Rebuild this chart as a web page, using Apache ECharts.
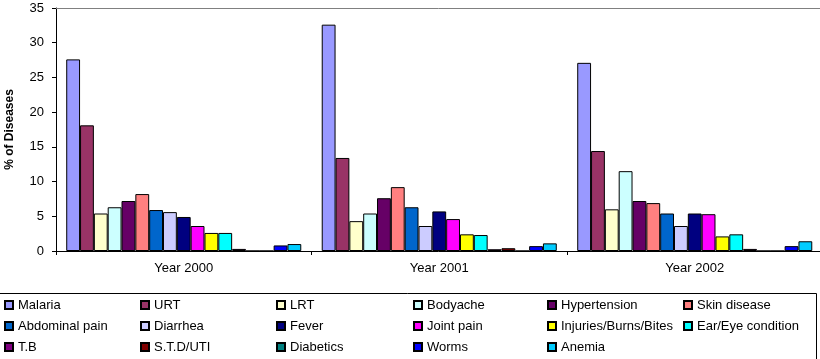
<!DOCTYPE html>
<html>
<head>
<meta charset="utf-8">
<script src="https://cdn.jsdelivr.net/npm/echarts@6/dist/echarts.min.js"></script>
<style>
html,body{margin:0;padding:0;background:#fff;}
#c{width:820px;height:359px;}
</style>
</head>
<body>
<div id="c"></div>
<script>
const categories = ['Year 2000', 'Year 2001', 'Year 2002'];
const seriesNames = ['Malaria','URT','LRT','Bodyache','Hypertension','Skin disease','Abdominal pain','Diarrhea','Fever','Joint pain','Injuries/Burns/Bites','Ear/Eye condition','T.B','S.T.D/UTI','Diabetics','Worms','Anemia'];
const seriesColors = ['#9999FF','#993366','#FFFFCC','#CCFFFF','#660066','#FF8080','#0066CC','#CCCCFF','#000080','#FF00FF','#FFFF00','#00FFFF','#800080','#800000','#008080','#0000FF','#00CCFF'];
const malaria = [27.6, 32.6, 27.1];
const urt = [18.1, 13.4, 14.4];
const lrt = [5.4, 4.3, 6.0];
const bodyache = [6.3, 5.4, 11.5];
const hypertension = [7.2, 7.6, 7.2];
const skinDisease = [8.2, 9.2, 6.9];
const abdominalPain = [5.9, 6.3, 5.4];
const diarrhea = [5.6, 3.6, 3.6];
const fever = [4.9, 5.7, 5.4];
const jointPain = [3.6, 4.6, 5.3];
const injuries = [2.6, 2.4, 2.1];
const earEye = [2.6, 2.3, 2.4];
const tb = [0.3, 0.25, 0.3];
const stdUti = [0, 0.4, 0];
const diabetics = [0, 0, 0];
const worms = [0.8, 0.7, 0.7];
const anemia = [1.0, 1.1, 1.4];
const yTicks = {min: 0, max: 35, interval: 5};

const seriesValues = [malaria, urt, lrt, bodyache, hypertension, skinDisease, abdominalPain, diarrhea, fever, jointPain, injuries, earEye, tb, stdUti, diabetics, worms, anemia];

const FONT = '"Liberation Sans", Arial, sans-serif';

const legendColumns = [
  ['Malaria','Abdominal pain','T.B'],
  ['URT','Diarrhea','S.T.D/UTI'],
  ['LRT','Fever','Diabetics'],
  ['Bodyache','Joint pain','Worms'],
  ['Hypertension','Injuries/Burns/Bites','Anemia'],
  ['Skin disease','Ear/Eye condition']
];
const legendLefts = [4, 140, 276, 413, 547, 683];

const chart = echarts.init(document.getElementById('c'), null, {renderer: 'canvas'});
chart.setOption({
  animation: false,
  backgroundColor: '#fff',
  textStyle: {fontFamily: FONT, color: '#000'},
  grid: {left: 56, top: 8, width: 766.5, height: 243, containLabel: false, outerBoundsMode: 'none'},
  xAxis: [{
    type: 'category',
    data: categories,
    position: 'bottom',
    axisLine: {lineStyle: {color: '#000', width: 1}},
    axisTick: {show: true, length: 4, lineStyle: {color: '#000'}},
    axisLabel: {fontSize: 13, color: '#000', margin: 11, fontFamily: FONT},
    splitLine: {show: false}
  }, {
    type: 'category',
    data: categories,
    position: 'top',
    axisLine: {lineStyle: {color: '#808080', width: 1}},
    axisTick: {show: false},
    axisLabel: {show: false},
    splitLine: {show: false}
  }],
  yAxis: {
    type: 'value',
    min: yTicks.min, max: yTicks.max, interval: yTicks.interval,
    name: '% of Diseases',
    nameLocation: 'middle',
    nameGap: 40,
    nameTextStyle: {fontSize: 12, fontWeight: 'bold', color: '#000', fontFamily: FONT},
    axisLine: {show: true, lineStyle: {color: '#000', width: 1}},
    axisTick: {show: true, length: 4, lineStyle: {color: '#000'}},
    axisLabel: {fontSize: 13, color: '#000', margin: 12, fontFamily: FONT},
    splitLine: {show: false}
  },
  legend: legendColumns.map((col, i) => ({
    data: col,
    orient: 'vertical',
    left: legendLefts[i],
    top: 298,
    padding: 0,
    itemGap: 7,
    itemWidth: 8,
    itemHeight: 8,
    icon: 'rect',
    selectedMode: false,
    textStyle: {fontSize: 13, color: '#000', fontFamily: FONT, lineHeight: 14, padding: [0, 0, 0, 0]}
  })),
  graphic: [{
    type: 'rect',
    shape: {x: -1.5, y: 293.5, width: 818, height: 100},
    style: {fill: 'none', stroke: '#000', lineWidth: 1},
    silent: true
  }],
  series: seriesNames.map((name, i) => ({
    name: name,
    type: 'bar',
    data: seriesValues[i],
    barGap: '0%',
    barCategoryGap: '8%',
    itemStyle: {color: seriesColors[i], borderColor: '#000', borderWidth: 1}
  }))
});
</script>
</body>
</html>
